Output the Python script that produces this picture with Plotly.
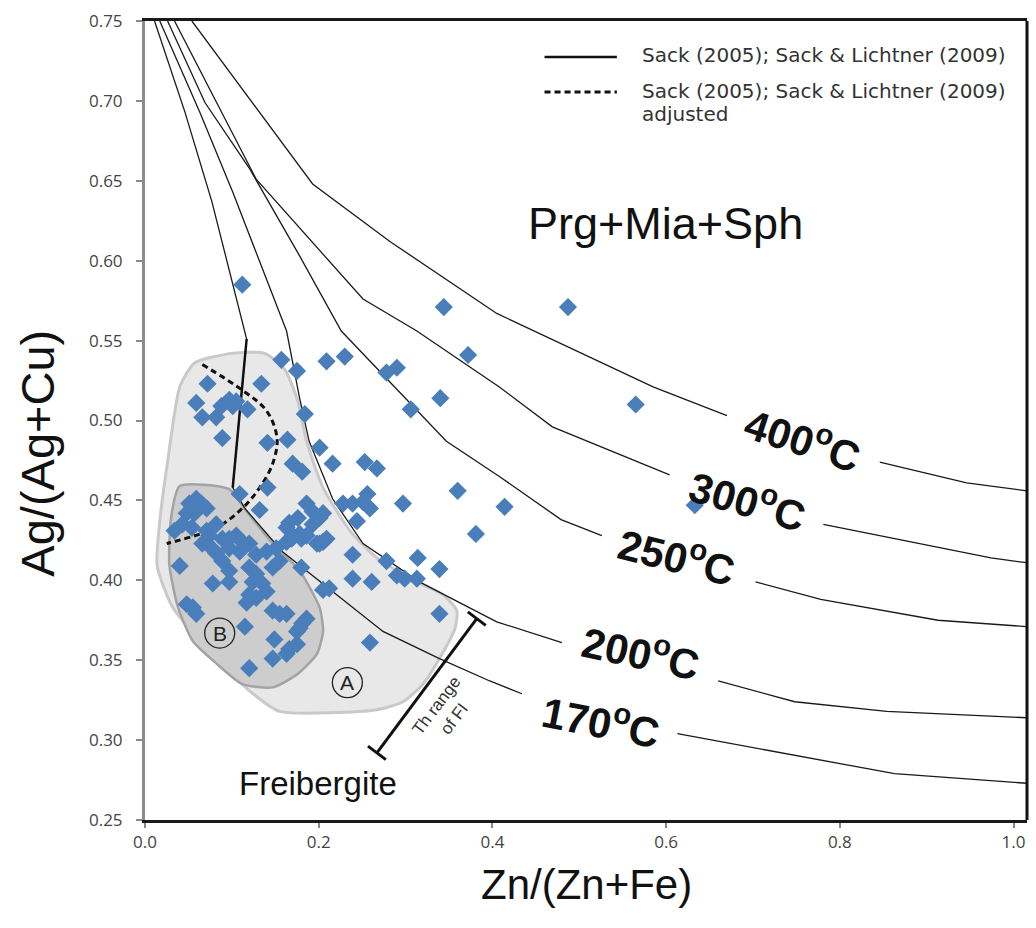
import plotly.graph_objects as go

# ---------------- isotherm curves (Sack 2005; Sack & Lichtner 2009) ----------------
t170_x = [0.011, 0.046, 0.077, 0.117, 0.101, 0.115, 0.158, 0.204, 0.274, 0.339, 0.397, 0.434, None, 0.613, 0.863, 1.015]
t170_y = [0.750, 0.693, 0.637, 0.551, 0.458, 0.445, 0.418, 0.398, 0.368, 0.351, 0.337, 0.329, None, 0.304, 0.279, 0.273]

t200_x = [0.017, 0.063, 0.101, 0.134, 0.163, 0.178, 0.189, 0.216, 0.251, 0.316, 0.405, 0.480, None, 0.660, 0.748, 0.854, 1.015]
t200_y = [0.750, 0.693, 0.643, 0.596, 0.556, 0.514, 0.487, 0.451, 0.423, 0.399, 0.374, 0.361, None, 0.337, 0.324, 0.318, 0.314]

t250_x = [0.026, 0.069, 0.120, 0.178, 0.226, 0.347, 0.408, 0.479, 0.526, None, 0.703, 0.778, 0.913, 1.015]
t250_y = [0.750, 0.699, 0.658, 0.603, 0.556, 0.487, 0.465, 0.438, 0.428, None, 0.399, 0.388, 0.375, 0.371]

t300_x = [0.034, 0.128, 0.251, 0.313, 0.408, 0.469, 0.604, None, 0.781, 0.974, 1.015]
t300_y = [0.750, 0.651, 0.576, 0.556, 0.521, 0.496, 0.466, None, 0.435, 0.414, 0.411]

t400_x = [0.054, 0.193, 0.282, 0.405, 0.585, 0.670, None, 0.846, 0.946, 1.015]
t400_y = [0.750, 0.648, 0.612, 0.567, 0.521, 0.503, None, 0.474, 0.461, 0.456]

# bold hand-drawn segment of the Sack curve
bold_x = [0.117, 0.101]
bold_y = [0.551, 0.458]

# adjusted curve (dashed)
adj_x = [0.066, 0.112, 0.140, 0.152, 0.147, 0.132, 0.112, 0.082, 0.025]
adj_y = [0.535, 0.519, 0.506, 0.489, 0.473, 0.458, 0.445, 0.433, 0.423]

# ---------------- fields A and B ----------------
regA_x = [0.100, 0.138, 0.161, 0.176, 0.186, 0.205, 0.236, 0.267, 0.313, 0.343, 0.359, 0.357, 0.339, 0.320,
          0.297, 0.267, 0.155, 0.120, 0.074, 0.032, 0.014, 0.017, 0.026, 0.040, 0.057, 0.100]
regA_y = [0.542, 0.542, 0.532, 0.512, 0.487, 0.458, 0.431, 0.414, 0.399, 0.391, 0.381, 0.370, 0.351, 0.335,
          0.324, 0.319, 0.318, 0.331, 0.356, 0.383, 0.409, 0.437, 0.474, 0.521, 0.536, 0.542]

regB_x = [0.040, 0.097, 0.117, 0.147, 0.178, 0.201, 0.205, 0.198, 0.175, 0.147, 0.112, 0.082, 0.055, 0.038,
          0.028, 0.030, 0.040]
regB_y = [0.459, 0.457, 0.443, 0.423, 0.406, 0.383, 0.368, 0.354, 0.341, 0.333, 0.335, 0.348, 0.362, 0.383,
          0.410, 0.439, 0.459]

# ---------------- analyses (freibergite) ----------------
zn = [0.112, 0.344, 0.487, 0.565, 0.633, 0.372, 0.340, 0.306, 0.290, 0.278, 0.360, 0.414, 0.381, 0.297,
      0.256, 0.228, 0.239, 0.251, 0.259, 0.244, 0.205, 0.314, 0.278, 0.339, 0.290, 0.299, 0.313, 0.239,
      0.261, 0.339, 0.259, 0.239, 0.201, 0.209, 0.169, 0.180, 0.186, 0.180, 0.205, 0.212,
      0.157, 0.175, 0.209, 0.230, 0.134, 0.072, 0.059, 0.088, 0.097, 0.105, 0.101, 0.118, 0.066, 0.082,
      0.184, 0.089, 0.141, 0.164, 0.201, 0.170, 0.181, 0.216, 0.253, 0.267, 0.186, 0.193, 0.176, 0.166,
      0.163, 0.141, 0.109, 0.132,
      0.059, 0.051, 0.065, 0.057, 0.048, 0.071, 0.043, 0.034, 0.054, 0.071, 0.082, 0.074, 0.089, 0.097,
      0.105, 0.112, 0.120, 0.066, 0.077, 0.082, 0.097, 0.109, 0.128, 0.140, 0.151, 0.040, 0.089, 0.097,
      0.120, 0.128, 0.147, 0.155, 0.078, 0.097, 0.124, 0.135, 0.140, 0.055, 0.048, 0.059, 0.120, 0.128,
      0.117, 0.147, 0.155, 0.163, 0.186, 0.181, 0.178, 0.175, 0.115, 0.149, 0.175, 0.166, 0.163, 0.147,
      0.120, 0.163, 0.170, 0.178, 0.193, 0.201, 0.198, 0.205]
ag = [0.585, 0.571, 0.571, 0.510, 0.447, 0.541, 0.514, 0.507, 0.533, 0.530, 0.456, 0.446, 0.429, 0.448,
      0.454, 0.448, 0.448, 0.449, 0.445, 0.437, 0.442, 0.414, 0.412, 0.407, 0.403, 0.401, 0.401, 0.401,
      0.399, 0.379, 0.361, 0.416, 0.423, 0.426, 0.426, 0.426, 0.428, 0.408, 0.394, 0.395,
      0.538, 0.531, 0.537, 0.540, 0.523, 0.523, 0.511, 0.509, 0.513, 0.512, 0.509, 0.507, 0.502, 0.502,
      0.504, 0.489, 0.486, 0.488, 0.483, 0.473, 0.468, 0.473, 0.474, 0.470, 0.448, 0.443, 0.439, 0.436,
      0.433, 0.458, 0.454, 0.444,
      0.451, 0.448, 0.448, 0.442, 0.442, 0.445, 0.435, 0.431, 0.433, 0.431, 0.435, 0.428, 0.426, 0.426,
      0.428, 0.424, 0.423, 0.423, 0.420, 0.417, 0.420, 0.418, 0.416, 0.418, 0.420, 0.409, 0.412, 0.406,
      0.408, 0.404, 0.408, 0.412, 0.398, 0.399, 0.399, 0.398, 0.393, 0.383, 0.385, 0.379, 0.391, 0.389,
      0.386, 0.381, 0.379, 0.379, 0.376, 0.373, 0.370, 0.368, 0.371, 0.363, 0.360, 0.357, 0.354, 0.351,
      0.345, 0.424, 0.428, 0.429, 0.435, 0.439, 0.423, 0.424]

# Th range of fluid inclusions bar
th_x = [0.267, 0.382]
th_y = [0.292, 0.376]

# isotherm labels
temp_labels = ["400", "300", "250", "200", "170"]
temp_x = [0.758, 0.694, 0.613, 0.571, 0.525]
temp_y = [0.489, 0.451, 0.416, 0.356, 0.3125]
temp_angle = [18, 16, 14, 12, 11]

x_ticks = [0.0, 0.2, 0.4, 0.6, 0.8, 1.0]
y_ticks = [0.25, 0.30, 0.35, 0.40, 0.45, 0.50, 0.55, 0.60, 0.65, 0.70, 0.75]

fig = go.Figure()

fig.add_trace(go.Scatter(x=regA_x, y=regA_y, mode="lines", fill="toself", fillcolor="#e8e8e8",
                         line=dict(color="#c9c9c9", width=3, shape="spline", smoothing=0.6), hoverinfo="skip"))
fig.add_trace(go.Scatter(x=regB_x, y=regB_y, mode="lines", fill="toself", fillcolor="#cdcdcd",
                         line=dict(color="#a3a3a3", width=2.5, shape="spline", smoothing=0.6), hoverinfo="skip"))

for cx, cy in [(t170_x, t170_y), (t200_x, t200_y), (t250_x, t250_y), (t300_x, t300_y), (t400_x, t400_y)]:
    fig.add_trace(go.Scatter(x=cx, y=cy, mode="lines", line=dict(color="#1a1a1a", width=1.3),
                             connectgaps=False, hoverinfo="skip"))

fig.add_trace(go.Scatter(x=bold_x, y=bold_y, mode="lines", line=dict(color="#111111", width=2.5)))
fig.add_trace(go.Scatter(x=adj_x, y=adj_y, mode="lines", line=dict(color="#111111", width=3, dash="6px,4px"),
                         line_shape="spline"))

fig.add_trace(go.Scatter(x=zn, y=ag, mode="markers",
                         marker=dict(symbol="diamond", size=14, color="#4a7ebb", line=dict(width=0))))

fig.add_trace(go.Scatter(x=th_x, y=th_y, mode="lines+markers",
                         line=dict(color="#111111", width=3),
                         marker=dict(symbol="line-ew", size=16, angle=37,
                                     line=dict(color="#111111", width=3))))

annotations = []
for lab, tx, ty, ang in zip(temp_labels, temp_x, temp_y, temp_angle):
    annotations.append(dict(x=tx, y=ty, xref="x", yref="y", text="<b>" + lab + "<sup>o</sup>C</b>", showarrow=False,
                            textangle=ang, font=dict(family="Liberation Sans", size=42, color="#111111"),
                            xanchor="center", yanchor="middle"))
annotations.append(dict(x=0.599, y=0.623, xref="x", yref="y", text="Prg+Mia+Sph", showarrow=False,
                        font=dict(family="Liberation Sans", size=45, color="#111111")))
annotations.append(dict(x=0.199, y=0.273, xref="x", yref="y", text="Freibergite", showarrow=False,
                        font=dict(family="Liberation Sans", size=33, color="#111111")))
annotations.append(dict(x=0.346, y=0.317, xref="x", yref="y", text="Th range<br>of FI", showarrow=False,
                        textangle=-53, font=dict(family="Liberation Sans", size=17, color="#333333")))
annotations.append(dict(x=0.233, y=0.336, xref="x", yref="y", text="A", showarrow=False,
                        font=dict(family="Liberation Sans", size=21, color="#222222")))
annotations.append(dict(x=0.086, y=0.367, xref="x", yref="y", text="B", showarrow=False,
                        font=dict(family="Liberation Sans", size=21, color="#222222")))
# legend
annotations.append(dict(x=0.561, y=0.9576, xref="paper", yref="paper", xanchor="left", yanchor="middle",
                        text="Sack (2005); Sack &amp; Lichtner (2009)", showarrow=False,
                        font=dict(family="DejaVu Sans", size=20, color="#333333")))
annotations.append(dict(x=0.561, y=0.9126, xref="paper", yref="paper", xanchor="left", yanchor="middle",
                        text="Sack (2005); Sack &amp; Lichtner (2009)", showarrow=False,
                        font=dict(family="DejaVu Sans", size=20, color="#333333")))
annotations.append(dict(x=0.561, y=0.8839, xref="paper", yref="paper", xanchor="left", yanchor="middle",
                        text="adjusted", showarrow=False,
                        font=dict(family="DejaVu Sans", size=20, color="#333333")))
# axis titles
annotations.append(dict(x=0.501, y=-0.081, xref="paper", yref="paper", text="Zn/(Zn+Fe)", showarrow=False,
                        xanchor="center", yanchor="middle",
                        font=dict(family="Liberation Sans", size=42, color="#111111")))
annotations.append(dict(x=-0.122, y=0.459, xref="paper", yref="paper", text="Ag/(Ag+Cu)", showarrow=False,
                        textangle=-90, xanchor="center", yanchor="middle",
                        font=dict(family="Liberation Sans", size=47, color="#111111")))

shapes = [
    # circles around A and B
    dict(type="circle", xref="x", yref="y", xsizemode="pixel", ysizemode="pixel",
         xanchor=0.233, yanchor=0.336, x0=-15, x1=15, y0=-15, y1=15, line=dict(color="#222222", width=1.3)),
    dict(type="circle", xref="x", yref="y", xsizemode="pixel", ysizemode="pixel",
         xanchor=0.086, yanchor=0.367, x0=-15, x1=15, y0=-15, y1=15, line=dict(color="#222222", width=1.3)),
    # legend samples
    dict(type="line", xref="paper", yref="paper", x0=0.453, x1=0.535, y0=0.955, y1=0.955,
         line=dict(color="#111111", width=2.5)),
    dict(type="line", xref="paper", yref="paper", x0=0.453, x1=0.535, y0=0.911, y1=0.911,
         line=dict(color="#111111", width=3, dash="6px,4px")),
    # right frame line
    dict(type="line", xref="paper", yref="paper", x0=1, x1=1, y0=0, y1=1,
         line=dict(color="#111111", width=3)),
]

fig.update_layout(
    width=1036, height=928,
    margin=dict(l=145, r=9, t=19, b=108),
    plot_bgcolor="white", paper_bgcolor="white",
    showlegend=False,
    annotations=annotations, shapes=shapes,
    xaxis=dict(range=[0, 1.0155], tickvals=x_ticks, ticktext=[f"{v:.1f}" for v in x_ticks],
               showgrid=False, zeroline=False, showline=True, linecolor="#1a1a1a", linewidth=3, mirror=True,
               ticks="outside", ticklen=5, tickcolor="#888888", tickwidth=1.5,
               tickfont=dict(family="Open Sans", size=17, color="#444444")),
    yaxis=dict(range=[0.25, 0.75], tickvals=y_ticks, ticktext=[f"{v:.2f}" for v in y_ticks],
               showgrid=False, zeroline=False, showline=True, linecolor="#8c8c8c", linewidth=3,
               ticks="outside", ticklen=6, tickcolor="#888888", tickwidth=1.5, ticklabelstandoff=10,
               tickfont=dict(family="Open Sans", size=17, color="#444444")),
)

fig.write_html("out.html", config={"displayModeBar": False},
               post_script="document.body.style.margin='0';")
